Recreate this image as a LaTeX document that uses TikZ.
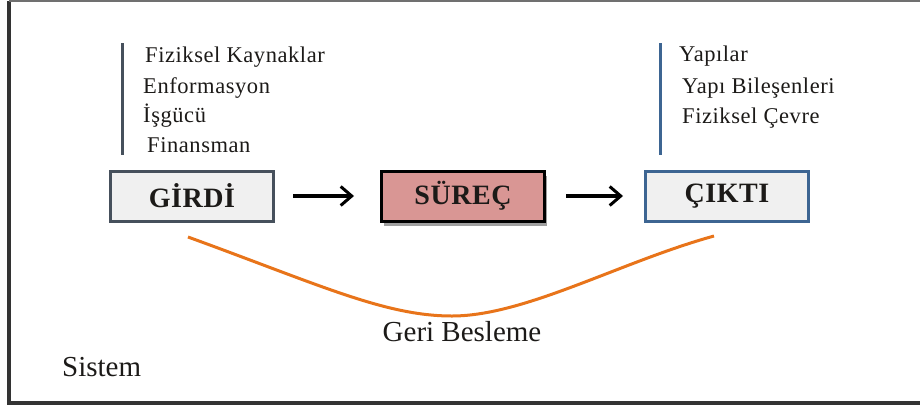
\documentclass[tikz,border=0pt]{standalone}
\usepackage{fontspec}
\setmainfont{Liberation Serif}
\newfontfamily\listfont[LetterSpace=2.5]{Liberation Serif}
\newfontfamily\boxfont[LetterSpace=2]{Liberation Serif}
\usetikzlibrary{arrows.meta,shadows}
\definecolor{slateedge}{HTML}{46505C}
\definecolor{blueedge}{HTML}{3D6592}
\definecolor{boxgray}{HTML}{F0F0F0}
\definecolor{rosefill}{HTML}{D99694}
\definecolor{feedorange}{HTML}{E8741A}
\definecolor{framegray}{HTML}{333333}
\definecolor{inktext}{HTML}{1C1A18}
\tikzset{
  stagebox/.style={draw, line width=3pt, minimum width=163pt, minimum height=50pt,
    inner sep=0pt, text=inktext, font=\boxfont\bfseries\fontsize{28}{30}\selectfont},
  listtext/.style={anchor=base west, inner sep=0pt, text=inktext,
    font=\listfont\fontsize{22.5}{25}\selectfont},
  flow/.style={line width=3.2pt, -{Straight Barb[length=11pt,width=19pt,line width=3pt]}},
  bracket/.style={line width=3pt},
  bigtext/.style={anchor=base, inner sep=0pt, text=inktext, font=\fontsize{29}{32}\selectfont}
}
\begin{document}
\begin{tikzpicture}[x=1pt,y=-1pt]
\useasboundingbox (0,0) rectangle (920,407);

% system frame
\draw[framegray, line width=3.5pt] (9,1) -- (9,403) -- (940,403);
\draw[framegray!70, line width=1.5pt] (9,1) -- (940,1);

% stages
\node[stagebox, draw=slateedge, fill=boxgray] (girdi) at (192,196) {GİRDİ};
\node[stagebox, draw=black, fill=rosefill,
      drop shadow={shadow xshift=2pt, shadow yshift=-5pt, fill=gray!75, opacity=1}]
      (surec) at (463,196) {SÜREÇ};
\node[stagebox, draw=blueedge, fill=boxgray] (cikti) at (727,196) {ÇIKTI};

% flow arrows
\draw[flow, shorten <=18pt, shorten >=26pt] (girdi.east) -- (surec.west);
\draw[flow, shorten <=20pt, shorten >=21pt] (surec.east) -- (cikti.west);

% inputs
\coordinate (inTop) at (122,43);
\coordinate (inBot) at (122,155);
\draw[bracket, slateedge] (inTop) -- (inBot);
\node[listtext] (in1) at (145,62) {Fiziksel Kaynaklar};
\node[listtext] (in2) at (143,93) {Enformasyon};
\node[listtext] (in3) at (143,122) {İşgücü};
\node[listtext] (in4) at (147,152) {Finansman};

% outputs
\coordinate (outTop) at (660,43);
\coordinate (outBot) at (660,155);
\draw[bracket, blueedge] (outTop) -- (outBot);
\node[listtext] (out1) at (679,61) {Yapılar};
\node[listtext] (out2) at (682,93) {Yapı Bileşenleri};
\node[listtext] (out3) at (682,123) {Fiziksel Çevre};

% feedback loop
\coordinate (fbL) at (188,237);
\coordinate (fbM) at (452,316);
\coordinate (fbR) at (714,236);
\draw[feedorange, line width=3pt]
  (fbL) .. controls (320,285) and (385,316) .. (fbM)
        .. controls (525,316) and (620,262) .. (fbR);
\node[bigtext] (fb) at (462,341) {Geri Besleme};

\node[bigtext, anchor=base west] (sys) at (62,376) {Sistem};
\end{tikzpicture}
\end{document}
